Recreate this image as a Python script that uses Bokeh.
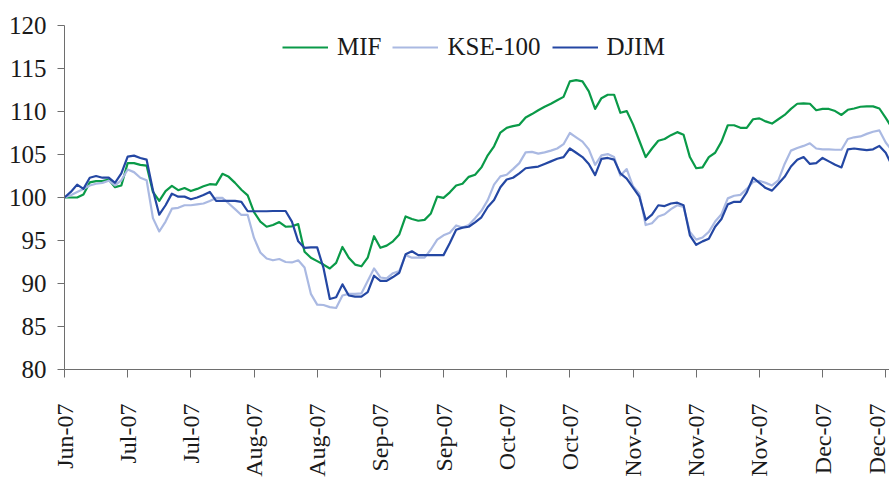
import math
from bokeh.plotting import figure
from bokeh.models import Range1d, FixedTicker, ColumnDataSource
from bokeh.embed import file_html
from bokeh.resources import INLINE

tick_labels = ["Jun-07", "Jul-07", "Jul-07", "Aug-07", "Aug-07", "Sep-07", "Sep-07",
               "Oct-07", "Oct-07", "Nov-07", "Nov-07", "Nov-07", "Dec-07", "Dec-07"]

mif = [100.0, 100.0, 100.0, 100.35, 101.75, 101.9, 101.9, 102.1, 101.2, 101.4,
       104.0, 104.0, 103.8, 103.7, 100.65, 99.6, 100.75, 101.35, 100.85, 101.1,
       100.75, 101.0, 101.3, 101.55, 101.5, 102.75, 102.4, 101.7, 100.9, 100.25,
       98.3, 97.2, 96.6, 96.8, 97.15, 96.6, 96.65, 96.9, 93.7, 93.0,
       92.6, 92.2, 91.75, 92.4, 94.25, 93.0, 92.2, 92.0, 93.0, 95.5,
       94.15, 94.4, 94.9, 95.7, 97.8, 97.5, 97.3, 97.4, 98.15, 100.1,
       99.95, 100.6, 101.4, 101.6, 102.4, 102.65, 103.5, 104.9, 105.95, 107.55,
       108.1, 108.3, 108.45, 109.3, 109.7, 110.15, 110.55, 110.9, 111.3, 111.7,
       113.5, 113.65, 113.5, 112.35, 110.3, 111.55, 111.95, 111.95, 109.85, 110.05,
       108.5, 106.6, 104.7, 105.7, 106.6, 106.8, 107.25, 107.6, 107.3, 104.7,
       103.4, 103.5, 104.7, 105.2, 106.5, 108.4, 108.4, 108.1, 108.1, 109.1,
       109.2, 108.85, 108.6, 109.1, 109.6, 110.3, 110.9, 110.95, 110.9, 110.15,
       110.3, 110.3, 110.05, 109.6, 110.2, 110.35, 110.55, 110.6, 110.6, 110.35,
       109.25, 108.1]

kse100 = [100.0, 100.27, 100.65, 101.0, 101.4, 101.6, 101.7, 101.95, 101.4, 102.0,
          103.25, 102.95, 102.3, 102.0, 97.6, 96.05, 97.2, 98.7, 98.8, 99.1,
          99.1, 99.2, 99.3, 99.6, 99.95, 99.95, 99.3, 98.65, 97.97, 97.97,
          95.3, 93.6, 92.9, 92.7, 92.85, 92.5, 92.45, 92.7, 91.85, 88.8,
          87.55, 87.5, 87.25, 87.15, 88.6, 88.8, 88.8, 88.85, 90.3, 91.75,
          90.7, 90.6, 91.2, 91.45, 93.3, 93.0, 93.0, 93.0, 93.95, 95.1,
          95.6, 95.9, 96.75, 96.5, 96.8, 97.6, 98.45, 99.7, 101.5, 102.45,
          102.65, 103.3, 104.0, 105.25, 105.3, 105.1, 105.25, 105.45, 105.7, 106.2,
          107.5, 107.0, 106.5, 105.6, 103.8, 104.9, 105.05, 104.7, 102.55, 103.3,
          101.3, 100.45, 96.8, 97.0, 97.8, 98.05, 98.65, 99.1, 98.9, 96.0,
          95.1, 95.35, 96.0, 97.2, 98.05, 99.9, 100.2, 100.3, 101.0, 101.8,
          101.95, 101.7, 101.4, 102.0, 103.9, 105.45, 105.75, 106.0, 106.3, 105.7,
          105.6, 105.6, 105.55, 105.55, 106.8, 107.0, 107.1, 107.4, 107.65, 107.8,
          106.4, 105.45]

djim = [100.0, 100.65, 101.5, 101.0, 102.3, 102.5, 102.3, 102.3, 101.7, 102.8,
        104.75, 104.87, 104.6, 104.4, 100.85, 98.0, 99.1, 100.45, 100.1, 100.1,
        99.8, 100.0, 100.3, 100.65, 99.6, 99.6, 99.6, 99.6, 99.5, 98.4,
        98.4, 98.4, 98.4, 98.43, 98.43, 98.43, 97.2, 94.9, 94.14, 94.2,
        94.2, 91.8, 88.2, 88.4, 89.9, 88.6, 88.47, 88.47, 89.0, 90.9,
        90.3, 90.3, 90.75, 91.25, 93.4, 93.75, 93.3, 93.3, 93.3, 93.3,
        93.3, 94.7, 96.25, 96.5, 96.6, 97.1, 97.7, 98.9, 99.7, 101.2,
        102.1, 102.3, 102.8, 103.4, 103.5, 103.6, 103.9, 104.2, 104.5, 104.7,
        105.7, 105.2, 104.7, 103.9, 102.6, 104.5, 104.6, 104.4, 102.8, 102.2,
        101.15, 100.1, 97.4, 98.0, 99.1, 99.0, 99.3, 99.4, 99.1, 95.6,
        94.5, 94.9, 95.2, 96.6, 97.5, 99.2, 99.5, 99.5, 100.6, 102.3,
        101.7, 101.1, 100.8, 101.6, 102.4, 103.6, 104.4, 104.7, 103.9, 104.0,
        104.6, 104.2, 103.8, 103.5, 105.6, 105.7, 105.6, 105.5, 105.6, 106.0,
        105.2, 103.7]

series_names = ["MIF", "KSE-100", "DJIM"]
series_colors = ["#0a9a48", "#aab9e2", "#2447a3"]

FONT = "Times New Roman"
TEXT = "#1a1a1a"
AXIS = "#6e6e6e"

day = list(range(len(mif)))
source = ColumnDataSource(dict(day=day, mif=mif, kse=kse100, djim=djim))

p = figure(width=889, height=479, output_backend="svg", toolbar_location=None,
           x_range=Range1d(0, 130.6), y_range=Range1d(80, 120),
           min_border_left=64, min_border_top=25, min_border_bottom=106,
           min_border_right=0)
p.outline_line_color = None
p.xgrid.grid_line_color = None
p.ygrid.grid_line_color = None
p.background_fill_color = "white"
p.border_fill_color = "white"

for col, name, color in zip(["mif", "kse", "djim"], series_names, series_colors):
    p.line("day", col, source=source, line_color=color, line_width=2.2,
           line_join="round", legend_label=name)

# y axis
p.yaxis.ticker = FixedTicker(ticks=list(range(80, 121, 5)))
p.yaxis.axis_line_color = AXIS
p.yaxis.major_tick_line_color = AXIS
p.yaxis.major_tick_in = 0
p.yaxis.major_tick_out = 7
p.yaxis.minor_tick_line_color = None
p.yaxis.major_label_standoff = 11
p.yaxis.major_label_text_font = FONT
p.yaxis.major_label_text_font_size = "25px"
p.yaxis.major_label_text_color = TEXT

# x axis
xt = [i * 10 for i in range(len(tick_labels))]
p.xaxis.ticker = FixedTicker(ticks=xt)
p.xaxis.major_label_overrides = {t: lab for t, lab in zip(xt, tick_labels)}
p.xaxis.major_label_orientation = math.pi / 2
p.xaxis.axis_line_color = AXIS
p.xaxis.major_tick_line_color = AXIS
p.xaxis.major_tick_in = 0
p.xaxis.major_tick_out = 8
p.xaxis.minor_tick_line_color = None
p.xaxis.major_label_standoff = 26
p.xaxis.major_label_text_font = FONT
p.xaxis.major_label_text_font_size = "24px"
p.xaxis.major_label_text_color = TEXT

lg = p.legend[0]
lg.orientation = "horizontal"
lg.location = (218, 308)
lg.glyph_width = 46
lg.glyph_height = 24
lg.label_height = 24
lg.label_standoff = 9
lg.spacing = 11
lg.padding = 0
lg.margin = 0
lg.border_line_color = None
lg.background_fill_alpha = 0
lg.label_text_font = FONT
lg.label_text_font_size = "25px"
lg.label_text_color = TEXT

open("out.html", "w").write(file_html(p, INLINE))
